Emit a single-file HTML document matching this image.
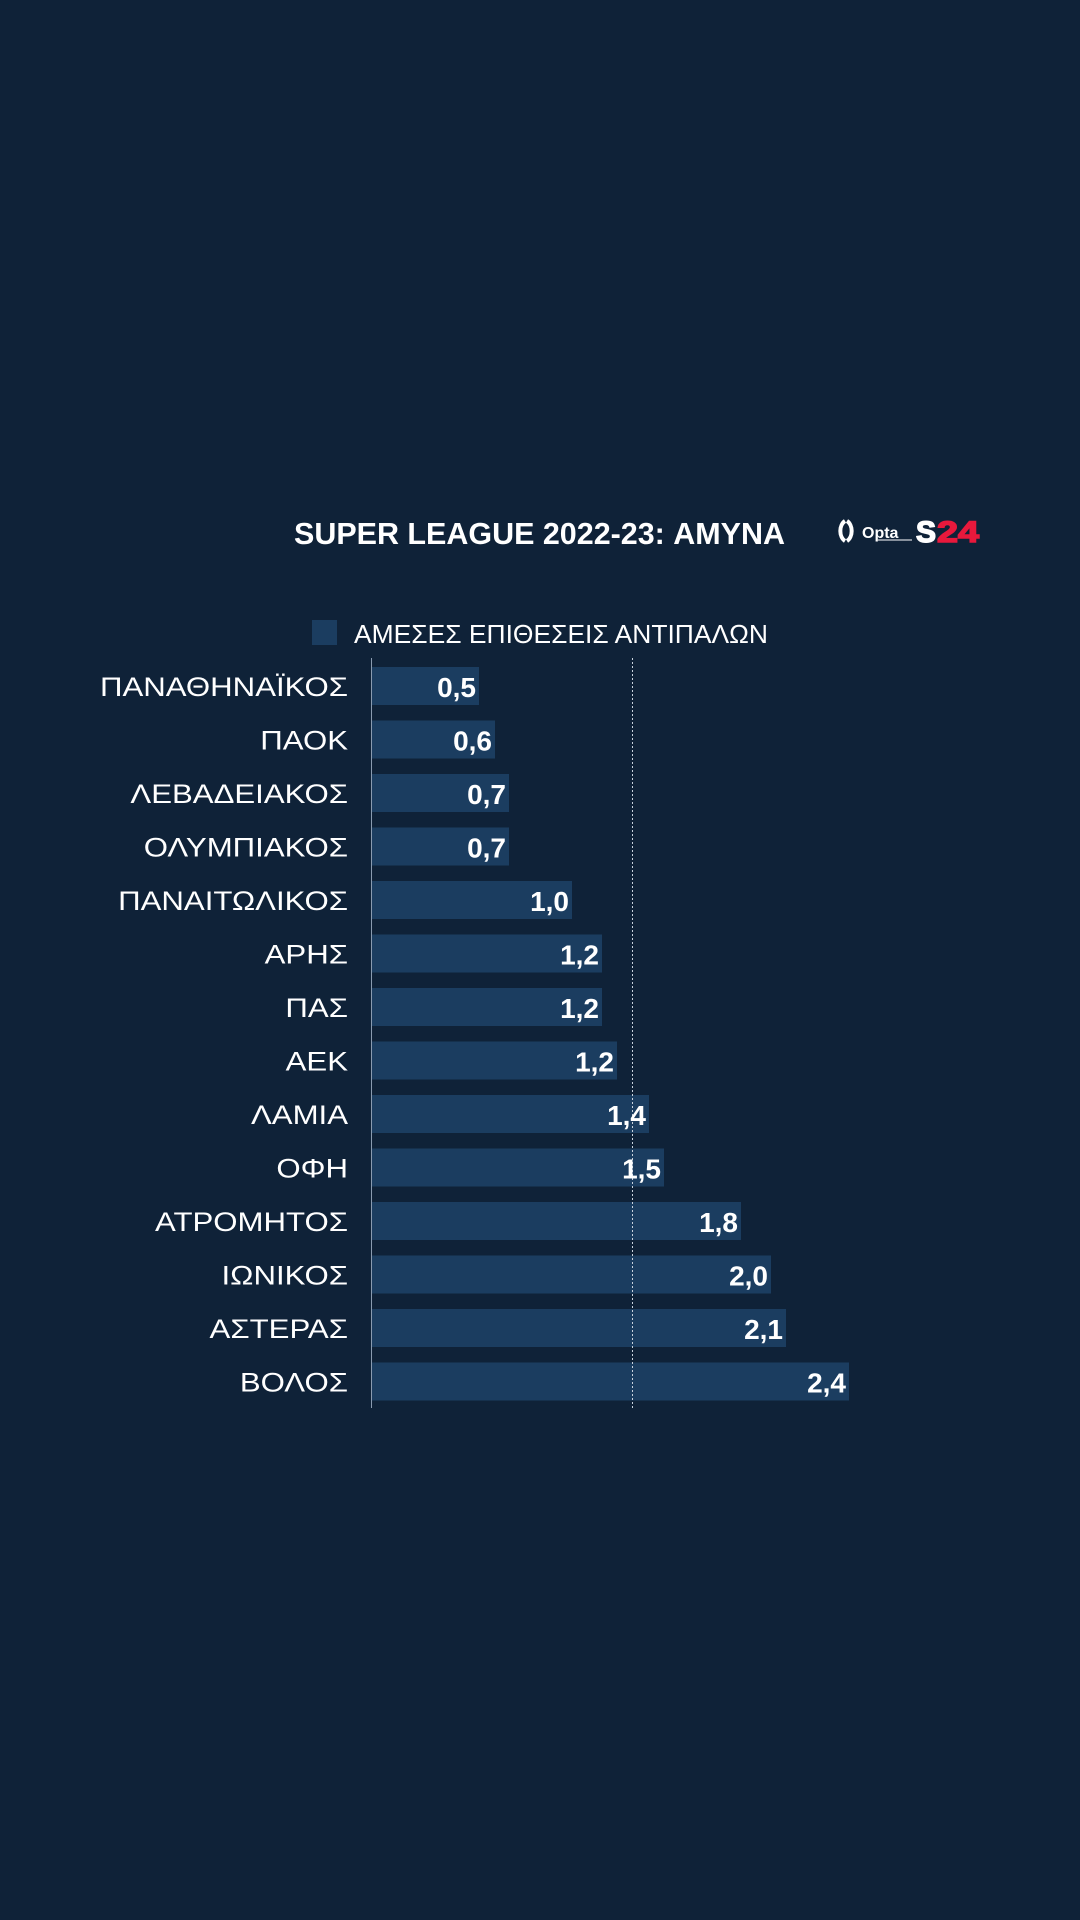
<!DOCTYPE html>
<html><head><meta charset="utf-8"><style>
html,body{margin:0;padding:0;background:#0f2238;}
svg{display:block}
</style></head><body>
<svg width="1080" height="1920" viewBox="0 0 1080 1920" xmlns="http://www.w3.org/2000/svg">
<rect width="1080" height="1920" fill="#0f2238"/>
<text x="294" y="544" font-family="Liberation Sans, sans-serif" font-weight="bold" font-size="31" fill="#fff" textLength="491" lengthAdjust="spacingAndGlyphs">SUPER LEAGUE 2022-23: ΑΜΥΝΑ</text>
<!-- logo -->
<path d="M845 521 a8 11 0 0 0 0 20 M847 521 a8 11 0 0 1 0 20" stroke="#fff" stroke-width="4" fill="none"/>
<text x="862" y="538" font-family="Liberation Sans, sans-serif" font-weight="bold" font-size="16" fill="#fff">Opta</text>
<line x1="878" y1="540" x2="912" y2="540" stroke="#fff" stroke-width="1"/>
<text x="916" y="542" font-family="Liberation Sans, sans-serif" font-weight="900" font-size="30" fill="#fff" stroke="#fff" stroke-width="1.5" textLength="20" lengthAdjust="spacingAndGlyphs">S</text>
<text x="937" y="542" font-family="Liberation Sans, sans-serif" font-weight="900" font-size="30" fill="#e8193c" stroke="#e8193c" stroke-width="1.5" textLength="42" lengthAdjust="spacingAndGlyphs">24</text>
<!-- legend -->
<rect x="312" y="620" width="25" height="25" fill="#1b3d60"/>
<text x="354" y="643" font-family="Liberation Sans, sans-serif" font-size="26" fill="#fff" textLength="414" lengthAdjust="spacingAndGlyphs">ΑΜΕΣΕΣ ΕΠΙΘΕΣΕΙΣ ΑΝΤΙΠΑΛΩΝ</text>
<g font-family="Liberation Sans, sans-serif" fill="#fff">
<g fill="#1b3d60">
<rect x="371" y="667" width="108" height="38"/>
<rect x="371" y="720.5" width="124" height="38"/>
<rect x="371" y="774" width="138" height="38"/>
<rect x="371" y="827.5" width="138" height="38"/>
<rect x="371" y="881" width="201" height="38"/>
<rect x="371" y="934.5" width="231" height="38"/>
<rect x="371" y="988" width="231" height="38"/>
<rect x="371" y="1041.5" width="246" height="38"/>
<rect x="371" y="1095" width="278" height="38"/>
<rect x="371" y="1148.5" width="293" height="38"/>
<rect x="371" y="1202" width="370" height="38"/>
<rect x="371" y="1255.5" width="400" height="38"/>
<rect x="371" y="1309" width="415" height="38"/>
<rect x="371" y="1362.5" width="478" height="38"/>
</g>
<line x1="371.5" y1="658" x2="371.5" y2="1408" stroke="#8a9bb0" stroke-width="1"/>
<line x1="632.5" y1="658" x2="632.5" y2="1408" stroke="#c8d2dd" stroke-width="1" stroke-dasharray="2,2"/>
<g font-size="27" text-anchor="end" transform="translate(348,0) scale(1.155,1) translate(-348,0)">
<text x="348" y="696">ΠΑΝΑΘΗΝΑΪΚΟΣ</text>
<text x="348" y="749.5">ΠΑΟΚ</text>
<text x="348" y="803">ΛΕΒΑΔΕΙΑΚΟΣ</text>
<text x="348" y="856.5">ΟΛΥΜΠΙΑΚΟΣ</text>
<text x="348" y="910">ΠΑΝΑΙΤΩΛΙΚΟΣ</text>
<text x="348" y="963.5">ΑΡΗΣ</text>
<text x="348" y="1017">ΠΑΣ</text>
<text x="348" y="1070.5">ΑΕΚ</text>
<text x="348" y="1124">ΛΑΜΙΑ</text>
<text x="348" y="1177.5">ΟΦΗ</text>
<text x="348" y="1231">ΑΤΡΟΜΗΤΟΣ</text>
<text x="348" y="1284.5">ΙΩΝΙΚΟΣ</text>
<text x="348" y="1338">ΑΣΤΕΡΑΣ</text>
<text x="348" y="1391.5">ΒΟΛΟΣ</text>
</g>
<g font-size="28" font-weight="bold" text-anchor="end">
<text x="476" y="697">0,5</text>
<text x="492" y="750.5">0,6</text>
<text x="506" y="804">0,7</text>
<text x="506" y="857.5">0,7</text>
<text x="569" y="911">1,0</text>
<text x="599" y="964.5">1,2</text>
<text x="599" y="1018">1,2</text>
<text x="614" y="1071.5">1,2</text>
<text x="646" y="1125">1,4</text>
<text x="661" y="1178.5">1,5</text>
<text x="738" y="1232">1,8</text>
<text x="768" y="1285.5">2,0</text>
<text x="783" y="1339">2,1</text>
<text x="846" y="1392.5">2,4</text>
</g>
</g>
</svg>
</body></html>
